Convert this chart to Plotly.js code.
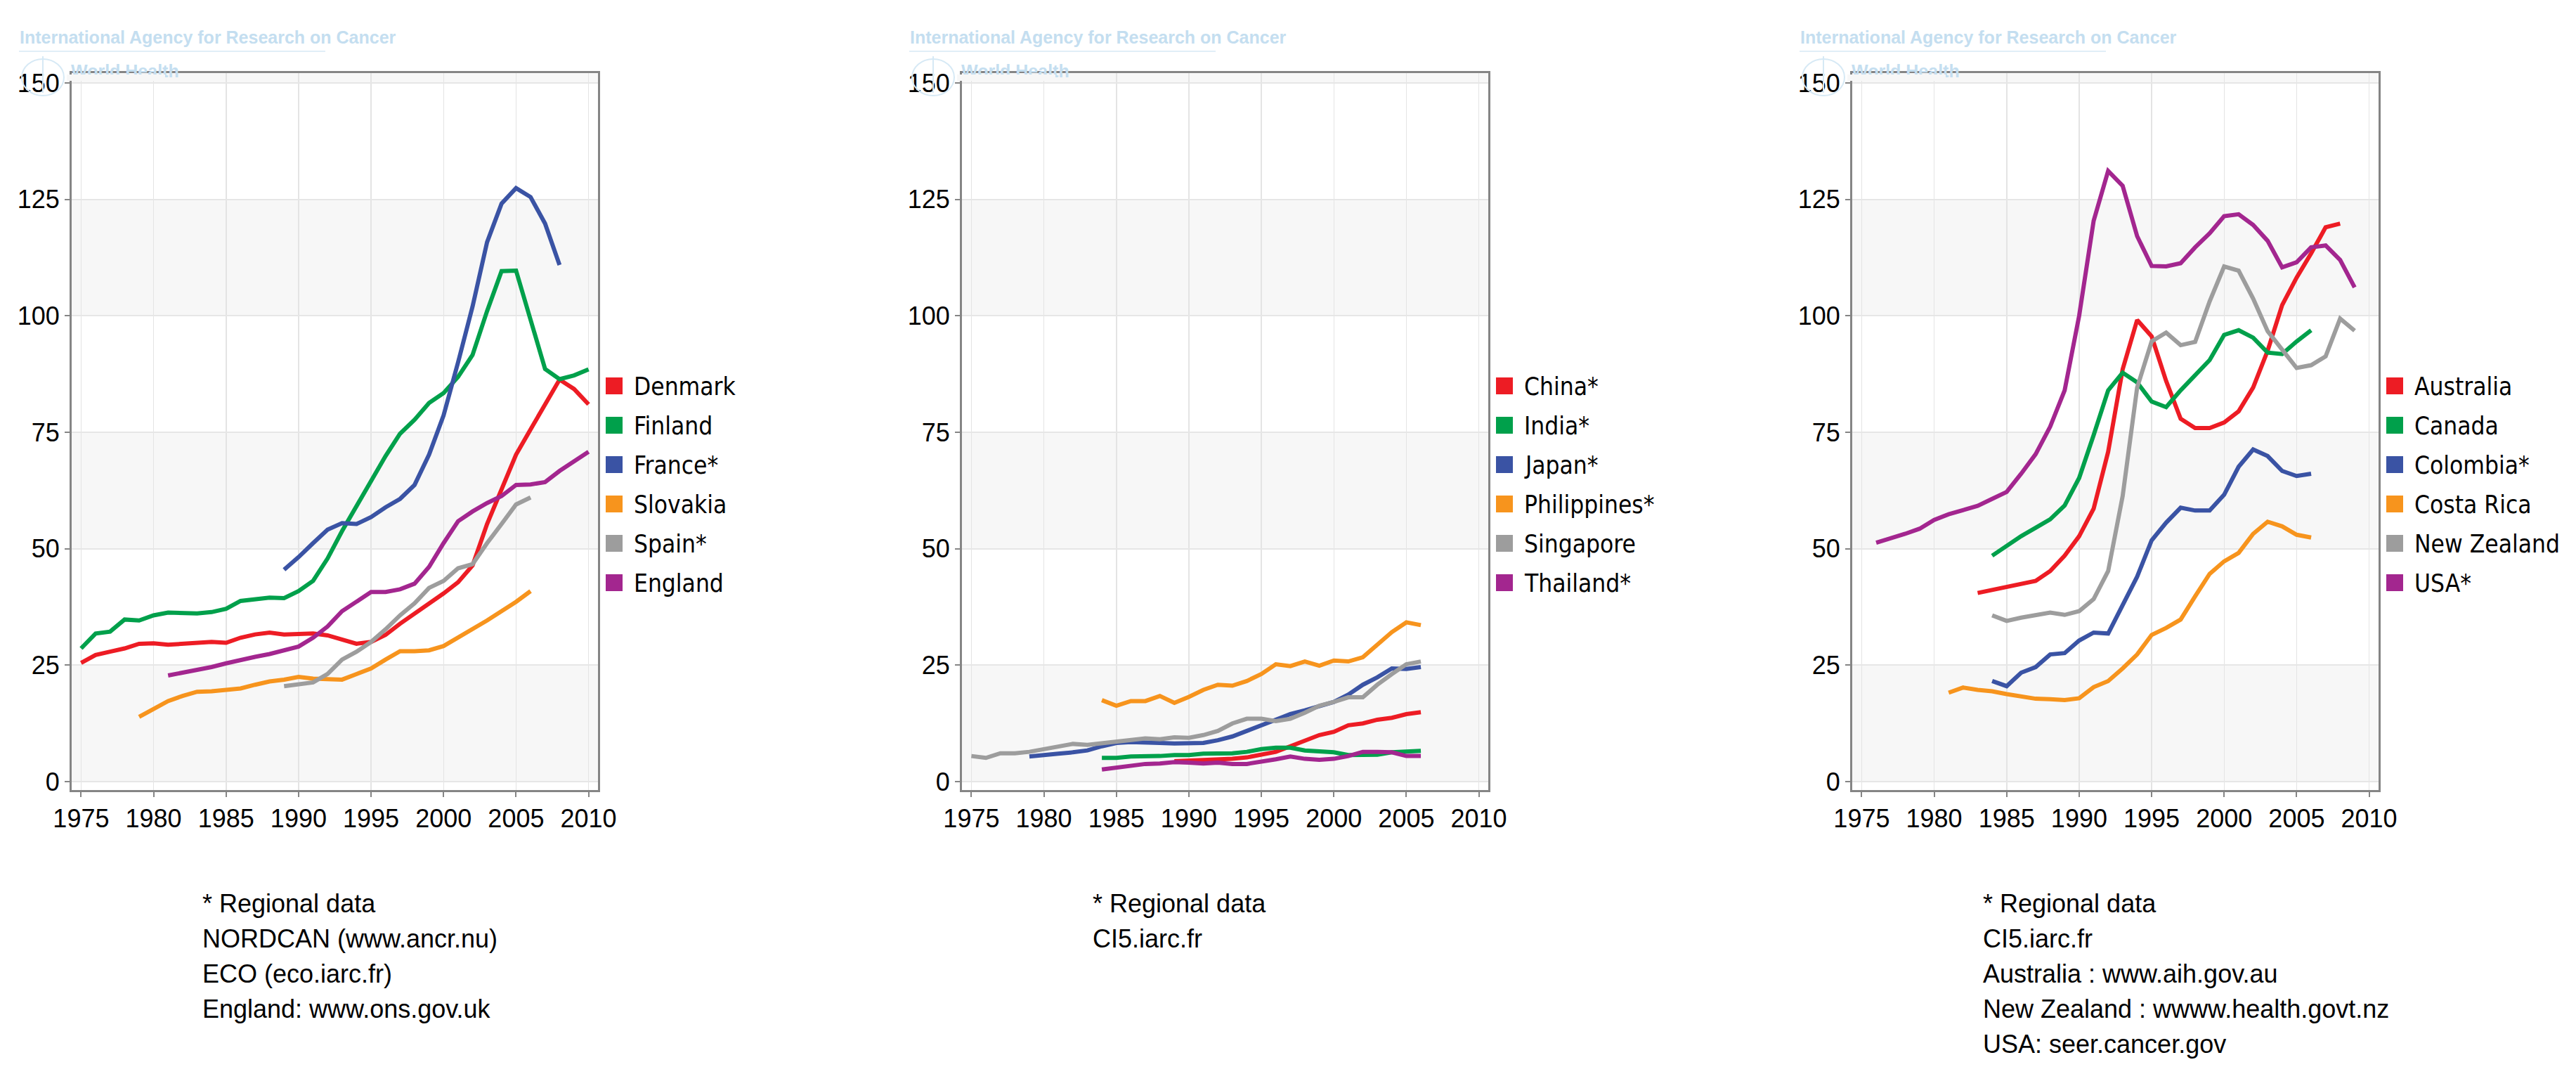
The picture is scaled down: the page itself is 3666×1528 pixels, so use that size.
<!DOCTYPE html>
<html>
<head>
<meta charset="utf-8">
<script src="https://cdn.plot.ly/plotly-3.0.1.min.js"></script>
<style>
html,body{margin:0;padding:0;background:#ffffff;}
#chart{width:3666px;height:1528px;}
</style>
</head>
<body>
<div id="chart"></div>
<script>
// ---------------- DATA ----------------
const yearTicks = [1975, 1980, 1985, 1990, 1995, 2000, 2005, 2010];
const valueTicks = [0, 25, 50, 75, 100, 125, 150];

// Panel 1 : Europe
const p1Names = ["Denmark", "Finland", "France*", "Slovakia", "Spain*", "England"];
const p1Start = [1975, 1975, 1989, 1979, 1989, 1981];
const denmark = [25.5,27.2,27.9,28.6,29.6,29.7,29.4,29.6,29.8,30.0,29.8,30.9,31.6,32.0,31.6,31.8,31.8,31.4,30.4,29.6,30.0,31.5,33.9,36.0,38.3,40.4,42.8,46.4,55.3,62.5,70.2,75.6,81.0,86.3,84.3,81.0];
const finland = [28.6,31.8,32.2,34.8,34.6,35.7,36.3,36.3,36.1,36.4,37.1,38.8,39.2,39.5,39.4,40.9,43.1,47.9,53.8,59.2,64.9,69.9,74.7,77.7,81.3,83.4,86.9,91.6,101.0,109.6,109.7,99.5,88.6,86.4,87.2,88.5];
const france = [45.5,48.2,51.2,54.1,55.5,55.3,56.8,58.9,60.7,63.7,70.2,78.6,90.0,102.0,115.8,124.1,127.4,125.5,119.8,110.9];
const slovakia = [13.9,15.7,17.3,18.4,19.3,19.4,19.7,20.0,20.8,21.5,21.9,22.5,22.1,21.9,21.9,23.1,24.3,26.2,28.0,28.0,28.2,29.1,30.9,32.7,34.6,36.6,38.6,40.9];
const spain = [20.5,20.8,21.3,23.1,26.2,27.9,30.0,32.7,35.7,38.3,41.6,43.1,45.8,46.7,51.2,55.3,59.5,61.0];
const england = [22.8,23.4,23.9,24.6,25.4,26.2,26.8,27.4,28.2,29.0,30.9,33.3,36.6,38.6,40.7,40.7,41.3,42.5,46.1,51.2,55.9,58.0,59.8,61.3,63.7,63.8,64.3,66.7,68.8,70.8];
const p1Notes = ["* Regional data", "NORDCAN (www.ancr.nu)", "ECO (eco.iarc.fr)", "England: www.ons.gov.uk"];

// Panel 2 : Asia
const p2Names = ["China*", "India*", "Japan*", "Philippines*", "Singapore", "Thailand*"];
const p2Start = [1989, 1984, 1979, 1984, 1975, 1984];
const china = [4.4,4.5,4.7,4.8,4.9,5.2,5.7,6.4,7.6,8.9,10.0,10.7,12.1,12.5,13.3,13.7,14.5,14.9];
const india = [5.1,5.1,5.4,5.4,5.5,5.7,5.7,6.0,6.0,6.1,6.4,7.0,7.3,7.3,6.7,6.4,6.3,5.7,5.7,5.8,6.3,6.4,6.6];
const japan = [5.4,5.8,6.0,6.3,6.7,7.6,8.3,8.5,8.5,8.3,8.2,8.2,8.3,8.9,9.7,10.9,12.1,13.3,14.5,15.3,16.1,17.1,18.7,20.8,22.4,24.3,24.2,24.6];
const philippines = [17.5,16.3,17.3,17.3,18.4,16.9,18.2,19.7,20.8,20.6,21.6,23.1,25.2,24.8,25.8,24.9,26.0,25.8,26.7,29.4,32.1,34.2,33.6];
const singapore = [5.5,5.1,6.1,6.1,6.4,7.0,7.6,8.1,7.9,8.2,8.5,8.8,9.3,9.1,9.5,9.4,10.0,10.9,12.5,13.5,13.5,13.0,13.5,14.8,16.3,17.1,18.1,18.1,20.8,23.1,25.2,25.8];
const thailand = [2.6,3.0,3.6,3.8,3.9,4.2,4.1,3.9,4.1,3.8,3.8,4.2,4.8,5.4,4.9,4.7,4.9,5.5,6.4,6.4,6.3,5.5,5.5];
const p2Notes = ["* Regional data", "CI5.iarc.fr"];

// Panel 3 : Americas / Oceania
const p3Names = ["Australia", "Canada", "Colombia*", "Costa Rica", "New Zealand", "USA*"];
const p3Start = [1983, 1984, 1984, 1981, 1984, 1976];
const australia = [40.5,41.1,41.7,42.5,43.1,45.2,48.5,52.7,58.6,70.8,88.5,99.1,95.6,86.0,77.9,75.9,75.9,77.1,79.5,84.6,92.5,102.3,108.2,113.4,119.0,119.8];
const canada = [48.5,50.6,52.7,54.5,56.3,59.3,65.2,74.4,84.0,87.8,85.7,81.6,80.4,84.0,87.3,90.5,95.9,96.9,95.3,92.1,91.8,94.5,96.9];
const colombia = [21.6,20.5,23.4,24.6,27.3,27.6,30.3,32.0,31.8,37.7,44.0,51.8,55.6,58.8,58.2,58.2,61.6,67.6,71.3,69.9,66.7,65.6,66.1];
const costaRica = [19.1,20.2,19.7,19.4,18.8,18.4,17.8,17.7,17.5,17.9,20.3,21.6,24.3,27.3,31.5,33.0,34.8,39.8,44.6,47.3,49.1,53.2,55.8,54.8,53.0,52.4];
const newZealand = [35.7,34.5,35.2,35.8,36.3,35.8,36.6,39.2,45.2,61.3,84.6,94.5,96.4,93.7,94.4,103.1,110.6,109.7,103.7,96.7,92.9,88.8,89.4,91.3,99.4,96.8];
const usa = [51.3,52.2,53.2,54.3,56.2,57.4,58.4,59.2,60.7,62.2,66.1,70.3,76.2,84.0,100.0,120.4,131.1,127.9,117.1,110.7,110.6,111.3,114.7,117.7,121.4,121.8,119.5,116.1,110.4,111.5,114.7,115.1,112.0,106.1];
const p3Notes = ["* Regional data", "CI5.iarc.fr", "Australia : www.aih.gov.au", "New Zealand : wwww.health.govt.nz", "USA: seer.cancer.gov"];

const watermarkText = "International Agency for Research on Cancer";
const watermarkText2 = "World Health";

// ---------------- STYLE / LAYOUT ----------------
const W = 3666, H = 1528;
const px = v => v / W;
const py = v => 1 - v / H;
const seriesColors = ["#ED1C24", "#00A04B", "#3A53A4", "#F7941D", "#9D9D9D", "#A3268F"];
const panels = [
  {names: p1Names, start: p1Start, values: [denmark, finland, france, slovakia, spain, england], notes: p1Notes},
  {names: p2Names, start: p2Start, values: [china, india, japan, philippines, singapore, thailand], notes: p2Notes},
  {names: p3Names, start: p3Start, values: [australia, canada, colombia, costaRica, newZealand, usa], notes: p3Notes}
];
const panelOffset = 1267;
const plotLeft = 102, plotRight = 851, plotTop = 104, plotBottom = 1124;

function yearsFrom(start, n) {
  const out = [];
  for (let k = 0; k < n; k++) out.push(start + k);
  return out;
}

const traces = [];
const shapes = [];
const annotations = [];
const layout = {
  width: W, height: H,
  margin: {l: 0, r: 0, t: 0, b: 0, pad: 0},
  paper_bgcolor: "#ffffff",
  plot_bgcolor: "#ffffff",
  showlegend: false,
  hovermode: false
};

panels.forEach((p, i) => {
  const s = i === 0 ? "" : String(i + 1);
  const off = panelOffset * i;
  layout["xaxis" + s] = {
    domain: [px(plotLeft + off), px(plotRight + off)],
    anchor: "y" + s,
    range: [1974.35, 2010.65],
    tickmode: "array",
    tickvals: yearTicks,
    ticktext: yearTicks.map(String),
    showgrid: true, gridcolor: "#e4e4e4", gridwidth: 1.5,
    zeroline: false,
    showline: true, mirror: true, linecolor: "#858585", linewidth: 3,
    ticks: "outside", ticklen: 7, tickwidth: 2, tickcolor: "#858585",
    tickfont: {family: "Liberation Sans, Arial, sans-serif", size: 36, color: "#000000"},
    fixedrange: true
  };
  layout["yaxis" + s] = {
    domain: [py(plotBottom), py(plotTop)],
    anchor: "x" + s,
    range: [-1.8, 152.1],
    tickmode: "array",
    tickvals: valueTicks,
    ticktext: valueTicks.map(String),
    showgrid: true, gridcolor: "#e6e6e6", gridwidth: 2,
    zeroline: false,
    showline: true, mirror: true, linecolor: "#858585", linewidth: 3,
    ticks: "outside", ticklen: 7, tickwidth: 2, tickcolor: "#858585",
    tickfont: {family: "Liberation Sans, Arial, sans-serif", size: 36, color: "#000000"},
    fixedrange: true
  };

  // alternating background bands
  [[0, 25], [50, 75], [100, 125], [150, 152.1]].forEach(b => {
    shapes.push({
      type: "rect", layer: "below",
      xref: "x" + s + " domain", x0: 0, x1: 1,
      yref: "y" + s, y0: b[0], y1: b[1],
      fillcolor: "#f7f7f7", line: {width: 0}
    });
  });

  // series lines
  p.values.forEach((vals, j) => {
    traces.push({
      type: "scatter", mode: "lines",
      name: p.names[j],
      x: yearsFrom(p.start[j], vals.length),
      y: vals,
      xaxis: "x" + s, yaxis: "y" + s,
      line: {color: seriesColors[j], width: 6},
      hoverinfo: "skip",
      showlegend: false
    });
  });

  // manual legend
  p.names.forEach((nm, j) => {
    const top = 537 + 56 * j;
    shapes.push({
      type: "rect", xref: "paper", yref: "paper",
      x0: px(862 + off), x1: px(886 + off),
      y0: py(top + 24), y1: py(top),
      fillcolor: seriesColors[j], line: {width: 0}
    });
    annotations.push({
      xref: "paper", yref: "paper",
      x: px(900 + off), y: py(top + 13),
      xanchor: "left", yanchor: "middle",
      text: nm, showarrow: false,
      font: {family: "DejaVu Sans Condensed, DejaVu Sans, sans-serif", size: 35, color: "#000000"}
    });
  });

  // footnotes
  p.notes.forEach((t, k) => {
    annotations.push({
      xref: "paper", yref: "paper",
      x: px(286 + off), y: py(1285 + 50 * k),
      xanchor: "left", yanchor: "middle",
      text: t, showarrow: false,
      font: {family: "Liberation Sans, Arial, sans-serif", size: 36, color: "#000000"}
    });
  });

  // faint watermark
  annotations.push({
    xref: "paper", yref: "paper",
    x: px(26 + off), y: py(53),
    xanchor: "left", yanchor: "middle",
    text: "<b>" + watermarkText + "</b>", showarrow: false,
    font: {family: "Liberation Sans Narrow, Liberation Sans, Arial, sans-serif", size: 25, color: "#c4def0"}
  });
  shapes.push({
    type: "line", xref: "paper", yref: "paper",
    x0: px(27 + off), x1: px(463 + off), y0: py(73), y1: py(73),
    line: {color: "#e1eef7", width: 2}
  });
  shapes.push({
    type: "circle", xref: "paper", yref: "paper",
    x0: px(31 + off), x1: px(91 + off), y0: py(136), y1: py(84),
    line: {color: "#d6e9f5", width: 2}
  });
  shapes.push({
    type: "line", xref: "paper", yref: "paper",
    x0: px(61 + off), x1: px(61 + off), y0: py(132), y1: py(80),
    line: {color: "#d6e9f5", width: 2}
  });
  annotations.push({
    xref: "paper", yref: "paper",
    x: px(99 + off), y: py(101),
    xanchor: "left", yanchor: "middle",
    text: "<b>" + watermarkText2 + "</b>", showarrow: false,
    font: {family: "Liberation Sans Narrow, Liberation Sans, Arial, sans-serif", size: 25, color: "#c4def0"}
  });
  // plot area hides the lower half of the watermark line
  annotations.push({
    xref: "paper", yref: "paper",
    x: px(165 + off), y: py(110),
    xanchor: "center", yanchor: "middle",
    width: 140, height: 9, borderpad: 0, borderwidth: 0,
    bgcolor: "#f7f7f7",
    text: " ", showarrow: false,
    font: {size: 4, color: "#f7f7f7"}
  });
});

layout.shapes = shapes;
layout.annotations = annotations;

Plotly.newPlot("chart", traces, layout, {displayModeBar: false, staticPlot: true});
</script>
</body>
</html>
